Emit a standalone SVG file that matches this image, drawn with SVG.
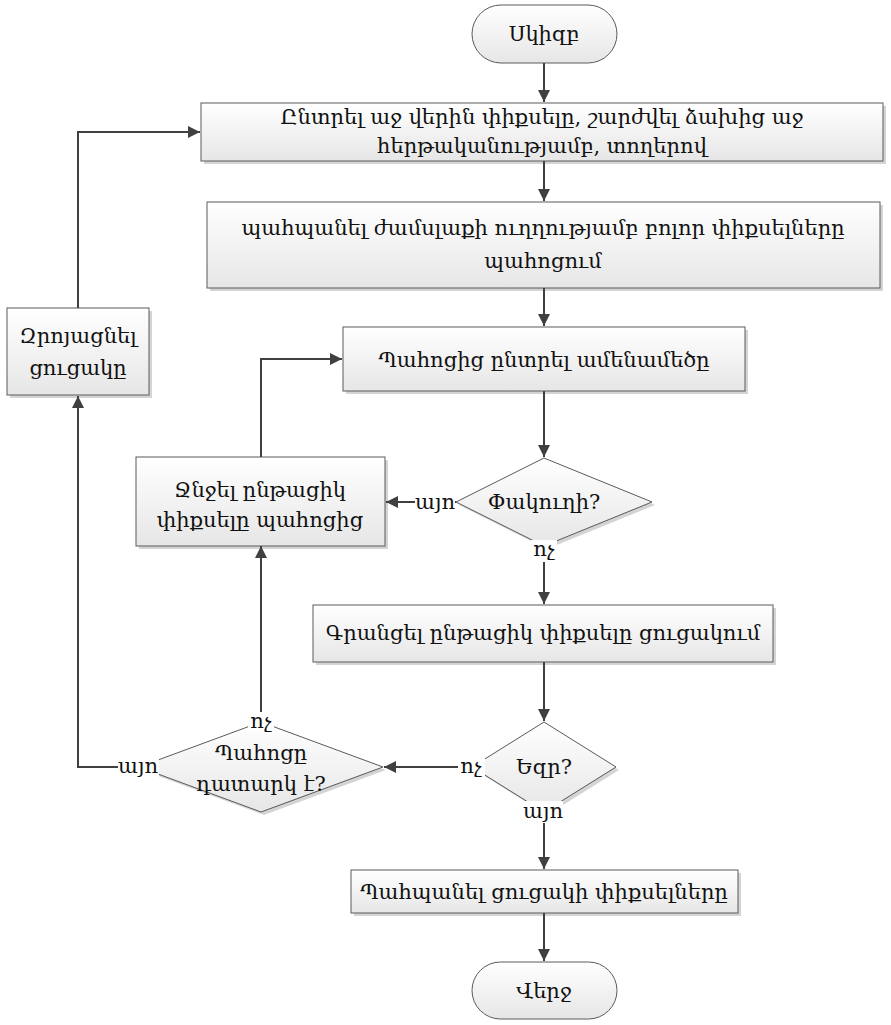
<svg xmlns="http://www.w3.org/2000/svg" width="891" height="1025" viewBox="0 0 891 1025">
<defs>
<linearGradient id="g" x1="0" y1="0" x2="0" y2="1">
<stop offset="0" stop-color="#ffffff"/>
<stop offset="1" stop-color="#e6e6e6"/>
</linearGradient>
<marker id="ah" markerUnits="userSpaceOnUse" markerWidth="13" markerHeight="13" refX="12" refY="6" orient="auto">
<path d="M0,0 L12,6 L0,12 z" fill="#404040"/>
</marker>
</defs>
<style>
.sh{fill:#d4d4d4;stroke:none}
.nd{fill:url(#g);stroke:#5a5a5a;stroke-width:1}
.t{font-family:"DejaVu Serif","DejaVu Sans",serif;font-size:21px;fill:#111;text-anchor:middle}
.c{fill:none;stroke:#404040;stroke-width:2;marker-end:url(#ah)}
.lb{fill:#ffffff;stroke:none}
</style>
<rect width="891" height="1025" fill="#ffffff"/>

<g id="start">
<rect class="nd" x="472" y="5" width="145" height="58" rx="29"/>
<text class="t" x="544" y="41">Սկիզբ</text>
</g>

<g id="select-top-left">
<rect class="sh" x="204" y="106" width="682" height="58"/>
<rect class="nd" x="201" y="103" width="682" height="58"/>
<text class="t" x="542" y="124">Ընտրել աջ վերին փիքսելը, շարժվել ձախից աջ</text>
<text class="t" x="542" y="153">հերթականությամբ, տողերով</text>
</g>

<g id="store-clockwise">
<rect class="sh" x="210" y="205" width="673" height="86"/>
<rect class="nd" x="207" y="202" width="673" height="86"/>
<text class="t" x="543" y="235">պահպանել ժամսլաքի ուղղությամբ բոլոր փիքսելները</text>
<text class="t" x="543" y="268">պահոցում</text>
</g>

<g id="clear-list">
<rect class="sh" x="10" y="311" width="142" height="87"/>
<rect class="nd" x="7" y="308" width="142" height="87"/>
<text class="t" x="78" y="343">Զրոյացնել</text>
<text class="t" x="78" y="375">ցուցակը</text>
</g>

<g id="pick-largest">
<rect class="sh" x="346" y="330" width="402" height="64"/>
<rect class="nd" x="343" y="327" width="402" height="64"/>
<text class="t" x="544" y="367">Պահոցից ընտրել ամենամեծը</text>
</g>

<g id="delete-current">
<rect class="sh" x="139" y="460" width="249" height="89"/>
<rect class="nd" x="136" y="457" width="249" height="89"/>
<text class="t" x="260" y="497">Ջնջել ընթացիկ</text>
<text class="t" x="260" y="527">փիքսելը պահոցից</text>
</g>

<g id="dead-end">
<polygon class="sh" points="459,505 547,461 655,505 547,549"/>
<polygon class="nd" points="456,502 544,458 652,502 544,546"/>
<text class="t" x="544" y="509">Փակուղի?</text>
</g>

<g id="add-to-list">
<rect class="sh" x="316" y="608" width="460" height="57"/>
<rect class="nd" x="313" y="605" width="460" height="57"/>
<text class="t" x="543" y="640">Գրանցել ընթացիկ փիքսելը ցուցակում</text>
</g>

<g id="edge">
<polygon class="sh" points="475,770 547,725 619,770 547,815"/>
<polygon class="nd" points="472,767 544,722 616,767 544,812"/>
<text class="t" x="544" y="774">Եզր?</text>
</g>

<g id="heap-empty">
<polygon class="sh" points="142,770 264,725 386,770 264,815"/>
<polygon class="nd" points="139,767 261,722 383,767 261,812"/>
<text class="t" x="261" y="760">Պահոցը</text>
<text class="t" x="261" y="791">դատարկ է?</text>
</g>

<g id="save-list">
<rect class="sh" x="354" y="873" width="387" height="43"/>
<rect class="nd" x="351" y="870" width="387" height="43"/>
<text class="t" x="544" y="899">Պահպանել ցուցակի փիքսելները</text>
</g>

<g id="end">
<rect class="nd" x="472" y="962" width="145" height="57" rx="28.5"/>
<text class="t" x="544" y="998">Վերջ</text>
</g>

<g id="connectors">
<path class="c" d="M544,63 L544,102"/>
<path class="c" d="M544,161 L544,201"/>
<path class="c" d="M544,288 L544,326"/>
<path class="c" d="M544,391 L544,457"/>
<path class="c" d="M456,502 L386,502"/>
<path class="c" d="M544,546 L544,604"/>
<path class="c" d="M544,662 L544,721"/>
<path class="c" d="M472,767 L384,767"/>
<path class="c" d="M544,812 L544,869"/>
<path class="c" d="M544,913 L544,961"/>
<path class="c" d="M261,722 L261,546"/>
<path class="c" d="M139,767 L78,767 L78,396"/>
<path class="c" d="M78,308 L78,132 L200,132"/>
<path class="c" d="M261,457 L261,359 L342,359"/>
<rect class="lb" x="415" y="490" width="40" height="24"/>
<text class="t" x="435" y="509">այո</text>
<rect class="lb" x="531" y="540" width="26" height="22"/>
<text class="t" x="544" y="556">ոչ</text>
<rect class="lb" x="458" y="756" width="27" height="22"/>
<text class="t" x="471" y="773">ոչ</text>
<rect class="lb" x="523" y="801" width="40" height="22"/>
<text class="t" x="543" y="818">այո</text>
<rect class="lb" x="248" y="712" width="26" height="20"/>
<text class="t" x="261" y="728">ոչ</text>
<rect class="lb" x="118" y="756" width="41" height="22"/>
<text class="t" x="138" y="773">այո</text>
</g>
</svg>
